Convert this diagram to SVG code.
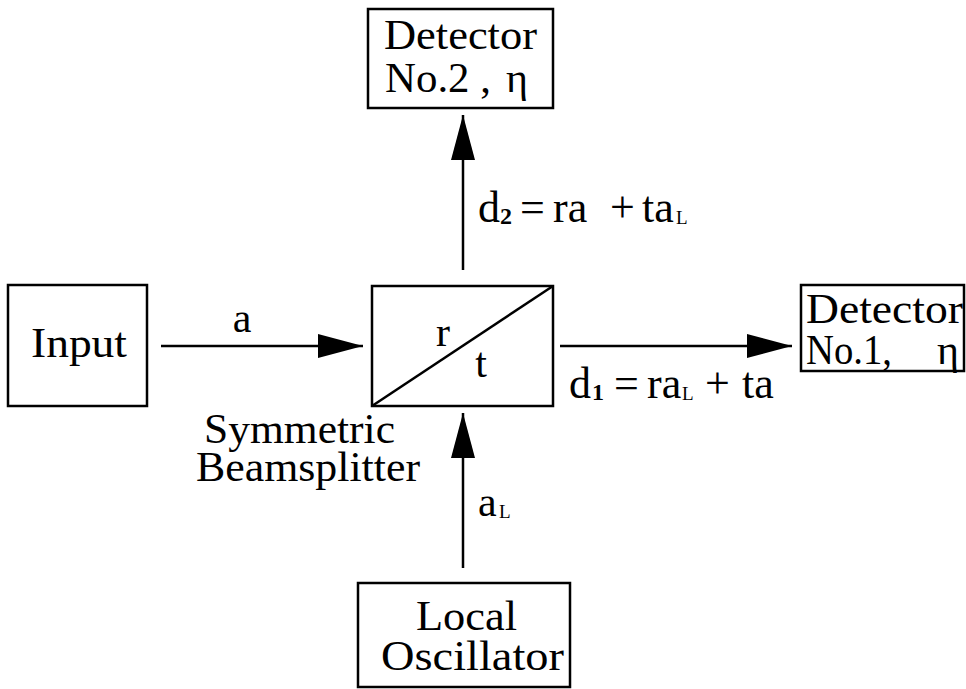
<svg xmlns="http://www.w3.org/2000/svg" width="966" height="689" viewBox="0 0 966 689">
<style>
.box{fill:#fff;stroke:#000;stroke-width:2.5}
.ln{stroke:#000;stroke-width:2.5;fill:none}
text{font-family:"Liberation Serif","Times New Roman",serif;font-size:42px;fill:#000}
.lb{font-size:44px}
.c{text-anchor:middle}
.sub{font-size:24px;font-weight:bold}
.subL{font-size:19px}
</style>
<defs>
<marker id="ah" viewBox="0 0 45 24" refX="45" refY="12" markerWidth="45" markerHeight="24" markerUnits="userSpaceOnUse" orient="auto">
<path d="M0,0 L45,12 L0,24 Z" fill="#000"/>
</marker>
</defs>
<rect width="966" height="689" fill="#fff"/>
<g id="connectors">
<line class="ln" x1="463" y1="270" x2="463" y2="115" marker-end="url(#ah)"/>
<line class="ln" x1="161" y1="346" x2="363" y2="346" marker-end="url(#ah)"/>
<line class="ln" x1="560" y1="346" x2="792" y2="346" marker-end="url(#ah)"/>
<line class="ln" x1="463" y1="568" x2="463" y2="413" marker-end="url(#ah)"/>
<text x="242" y="332" class="c">a</text>
<g id="label-d2">
<text x="478" y="222" class="lb">d</text>
<text x="500" y="224" class="sub">2</text>
<text x="520" y="222" class="lb">=</text>
<text x="553" y="222" class="lb">ra</text>
<text x="610" y="222" class="lb">+</text>
<text x="642" y="222" class="lb">ta</text>
<text x="676" y="224" class="subL">L</text>
</g>
<g id="label-d1">
<text x="569" y="398" class="lb">d</text>
<text x="592" y="400" class="sub">1</text>
<text x="614" y="398" class="lb">=</text>
<text x="647" y="398" class="lb">ra</text>
<text x="682" y="400" class="subL">L</text>
<text x="705" y="398" class="lb">+</text>
<text x="742" y="398" class="lb">ta</text>
</g>
<g id="label-aL">
<text x="478" y="516">a</text>
<text x="499" y="518" class="subL">L</text>
</g>
</g>
<g id="detector2">
<rect class="box" x="368" y="9" width="185" height="99"/>
<text x="384" y="49" textLength="153" lengthAdjust="spacingAndGlyphs">Detector</text>
<text x="385" y="92" textLength="106" lengthAdjust="spacingAndGlyphs">No.2 ,</text>
<text x="506" y="92">η</text>
</g>
<g id="input">
<rect class="box" x="8" y="285" width="139" height="121"/>
<text x="31" y="357" textLength="96" lengthAdjust="spacingAndGlyphs">Input</text>
</g>
<g id="beamsplitter">
<rect class="box" x="372" y="286" width="181" height="120"/>
<line class="ln" x1="372" y1="406" x2="553" y2="286"/>
<text x="443" y="346" class="c">r</text>
<text x="481" y="377" class="c">t</text>
<text x="204" y="443" textLength="191" lengthAdjust="spacingAndGlyphs">Symmetric</text>
<text x="196" y="481" textLength="224" lengthAdjust="spacingAndGlyphs">Beamsplitter</text>
</g>
<g id="detector1">
<rect class="box" x="801" y="285" width="163" height="86"/>
<text x="806" y="323" textLength="157" lengthAdjust="spacingAndGlyphs">Detector</text>
<text x="806" y="364" textLength="86" lengthAdjust="spacingAndGlyphs">No.1,</text>
<text x="937" y="364">η</text>
</g>
<g id="localosc">
<rect class="box" x="358" y="583" width="212" height="104"/>
<text x="416" y="630" textLength="101" lengthAdjust="spacingAndGlyphs">Local</text>
<text x="381" y="670" textLength="183" lengthAdjust="spacingAndGlyphs">Oscillator</text>
</g>
</svg>
